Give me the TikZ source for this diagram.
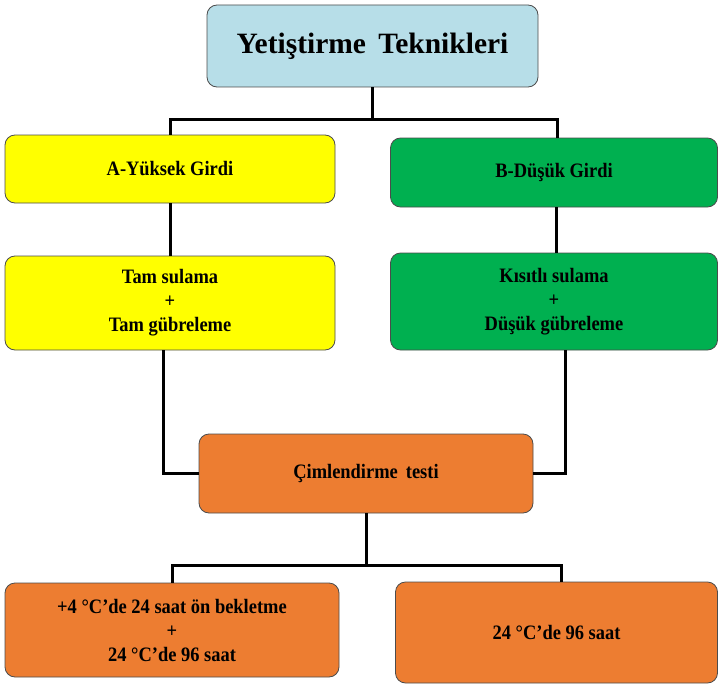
\documentclass[tikz,border=0pt]{standalone}
\usepackage{fontspec}
\setmainfont{Liberation Serif}
\newfontfamily\darfont[FakeStretch=0.9]{Liberation Serif}
\definecolor{acikmavi}{HTML}{B7DEE8}
\definecolor{sari}{HTML}{FFFF00}
\definecolor{yesil}{HTML}{00B050}
\definecolor{turuncu}{HTML}{ED7D31}
\tikzset{
  kutu/.style={draw=black!70, line width=0.8pt, rounded corners=10pt, align=center,
    font=\darfont\bfseries\fontsize{20.5}{24}\selectfont, inner sep=2pt},
  hat/.style={line width=3pt, black},
}

\begin{document}
\begin{tikzpicture}[x=1pt, y=1pt]
\useasboundingbox (0,0) rectangle (718,-685);
% kutular
\node[kutu, fill=acikmavi, minimum width=331, minimum height=82,
  font=\bfseries\fontsize{29.5}{34}\selectfont] (baslik) at (372.5,-46) {Yetiştirme\, Teknikleri};
\node[kutu, fill=sari, minimum width=330, minimum height=68] (a) at (170,-169) {A-Yüksek Girdi};
\node[kutu, fill=yesil, minimum width=327, minimum height=69] (b) at (554,-172.5) {B-Düşük Girdi};
\node[kutu, fill=sari, minimum width=330, minimum height=94] (a2) at (170,-303) {Tam sulama\\+\\Tam gübreleme};
\node[kutu, fill=yesil, minimum width=327, minimum height=97] (b2) at (554,-301.5) {Kısıtlı sulama\\+\\Düşük gübreleme};
\node[kutu, fill=turuncu, minimum width=334, minimum height=79] (c) at (366,-473.5) {Çimlendirme\, testi};
\node[kutu, fill=turuncu, minimum width=334, minimum height=94] (d) at (172,-630) {+4 °C’de 24 saat ön bekletme\\+\\24 °C’de 96 saat};
\node[kutu, fill=turuncu, minimum width=322, minimum height=101] (e) at (556.5,-632.5) {24 °C’de 96 saat};
% baglantilar
\coordinate (ust) at ([yshift=-32]baslik.south);
\draw[hat] (baslik.south) -- (ust);
\draw[hat] (ust) -| (a.north);
\draw[hat] (ust) -| ([xshift=3]b.north);
\draw[hat] (a) -- (a2);
\draw[hat] ([xshift=2]b.south) -- ([xshift=2]b2.north);
\draw[hat] ([xshift=-7]a2.south) |- (c.west);
\draw[hat] ([xshift=11]b2.south) |- (c.east);
\coordinate (alt) at ([yshift=-52]c.south);
\draw[hat] (c.south) -- (alt);
\draw[hat] (alt) -| (d.north);
\draw[hat] (alt) -| ([xshift=4.5]e.north);
\end{tikzpicture}
\end{document}
